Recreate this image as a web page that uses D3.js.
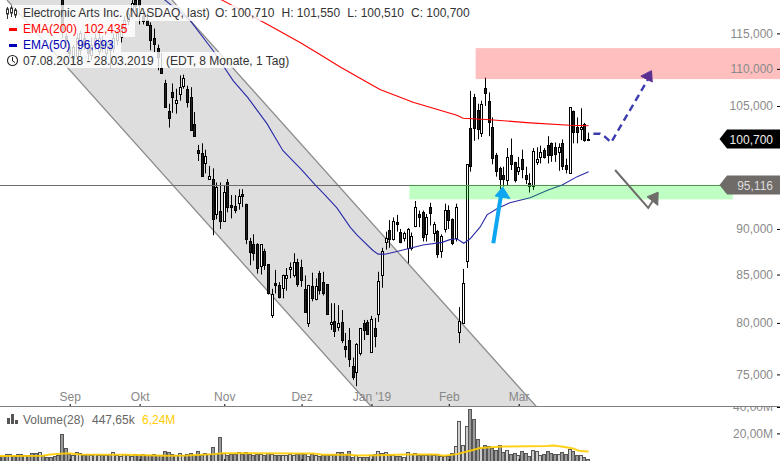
<!DOCTYPE html>
<html>
<head>
<meta charset="utf-8">
<script src="https://cdn.jsdelivr.net/npm/d3@7"></script>
<style>
html,body{margin:0;padding:0;background:#fff;overflow:hidden}
svg{display:block}
text{font-family:"Liberation Sans",Arial,sans-serif;font-size:12px}
</style>
</head>
<body>
<svg id="c" width="780" height="461"></svg>
<script>
// ---- Price data (one value per trading day, 07.08.2018 - 28.03.2019) ----
const opens=[128.0,127.2,126.5,125.9,126.4,125.0,124.4,123.6,124.2,123.5,123.0,122.6,122.9,122.3,122.0,121.8,121.5,
121.0,114.6,113.1,111.5,111.9,112.6,114.4,113.0,111.9,113.3,112.6,113.7,112.2,113.7,112.9,114.0,114.6,115.7,116.9,118.4,119.9,119.9,117.6,116.9,116.2,114.4,112.9,110.1,108.1,104.4,106.8,105.4,106.5,107.6,107.3,106.2,102.7,99.4,99.0,97.7,95.8,
95.8,91.7,92.0,90.9,95.4,92.7,92.6,93.0,94.0,92.9,88.7,88.3,88.3,85.9,87.5,86.1,80.8,84.1,83.9,83.5,84.7,85.6,85.0,86.3,85.8,83.5,80.0,83.8,82.4,85.2,84.2,84.0,79.9,80.2,79.6,80.1,77.7,78.3,75.8,75.2,77.0,80.0,80.1,77.1,79.5,80.9,84.9,88.5,
89.9,88.9,90.8,89.7,89.0,87.9,87.9,90.3,91.7,91.9,89.5,92.5,89.6,89.8,87.5,90.0,92.2,91.1,89.0,79.1,80.0,86.4,102.1,106.2,104.5,101.4,107.4,105.7,102.3,98.7,97.1,96.3,95.7,98.8,97.9,96.8,98.3,96.3,95.3,95.0,97.9,98.5,99.4,100.0,100.2,99.7,99.1,100.3,97.5,96.5,104.3,102.3,102.1,102.7,100.71];
const highs=[130.0,128.6,127.9,127.5,127.0,126.2,125.2,124.8,125.0,124.6,123.8,123.9,123.8,123.2,122.8,122.5,122.3,
122.0,115.0,113.6,113.3,115.0,115.4,115.0,114.0,114.4,115.0,115.4,114.6,114.0,114.0,115.0,115.4,116.0,117.5,118.4,119.9,120.4,120.0,118.7,118.1,116.6,115.7,113.4,112.2,108.5,105.3,108.0,107.3,109.1,109.2,107.7,107.5,104.2,100.0,100.2,99.4,97.4,
97.1,95.4,95.4,95.1,95.8,93.9,93.9,94.6,94.6,92.9,89.0,89.4,88.4,88.3,87.8,86.1,83.5,85.5,84.2,85.0,85.7,86.3,87.3,86.7,86.6,84.9,83.9,85.2,84.6,85.4,85.3,84.0,82.0,82.0,81.8,81.3,79.0,79.5,76.6,78.0,79.5,80.3,80.3,80.7,80.5,85.3,87.9,89.7,
91.0,91.3,91.6,90.0,89.7,90.1,89.6,93.2,92.1,92.1,91.7,93.0,90.8,89.9,89.4,92.9,92.7,91.2,92.9,81.6,85.6,97.6,107.0,106.6,105.3,105.7,108.8,106.8,103.5,99.0,97.3,97.3,99.6,100.8,97.9,98.5,99.4,97.3,96.5,99.6,99.7,99.9,99.6,101.1,100.3,100.3,100.2,100.7,98.3,104.8,104.4,103.5,104.7,102.8,101.55];
const lows=[126.8,126.4,125.8,125.4,124.8,124.0,123.2,123.2,123.4,122.8,122.4,122.2,122.0,121.6,121.2,121.0,120.8,
114.3,113.0,111.6,110.5,111.2,111.9,112.6,111.2,111.2,112.6,111.9,112.3,111.6,110.1,112.3,113.3,113.7,115.1,116.2,117.3,118.1,116.3,116.3,116.2,112.6,112.3,109.8,109.4,104.9,102.2,104.1,104.0,105.7,107.3,104.8,101.9,101.2,98.0,96.1,96.5,95.7,
89.3,91.1,90.0,90.9,91.9,91.2,91.8,92.2,92.5,88.3,86.0,86.5,85.1,85.0,85.5,82.9,80.5,83.0,82.5,82.5,83.3,84.6,84.7,83.7,83.7,81.0,79.6,82.2,82.3,82.9,82.8,80.9,79.3,78.6,79.2,78.0,76.6,75.7,74.5,73.9,76.8,78.3,78.8,77.1,77.6,80.1,83.6,87.7,
87.9,88.7,89.7,88.4,88.6,86.2,87.6,90.2,90.2,88.6,88.6,90.4,88.6,86.8,86.8,89.6,90.0,88.2,88.6,78.0,79.9,85.7,96.7,100.5,100.7,101.0,105.0,101.1,97.6,96.1,94.6,94.9,95.0,96.9,95.4,96.3,95.9,95.2,94.2,94.5,97.5,97.7,98.3,97.7,97.9,97.9,96.8,96.9,96.5,96.5,100.2,100.2,100.6,100.4,100.51];
const closes=[127.2,126.7,126.0,126.8,125.2,124.6,123.6,124.4,123.6,123.1,122.7,122.9,122.3,121.9,121.7,121.4,121.1,
115.4,113.7,112.3,113.0,114.4,115.0,113.3,112.2,113.3,114.3,114.4,112.9,113.6,112.6,114.3,115.0,115.7,116.9,117.9,119.5,119.0,119.2,116.9,116.2,114.0,113.6,111.6,109.4,104.9,103.5,106.1,105.8,107.5,108.7,105.6,101.9,101.2,99.0,96.2,98.6,96.2,
91.1,94.9,90.9,94.3,92.5,92.5,92.1,93.8,93.8,88.9,87.5,87.3,85.7,88.3,86.0,83.0,83.0,83.9,82.6,84.9,85.0,85.8,86.4,84.0,84.4,81.1,83.9,82.5,83.8,83.4,83.0,80.9,80.1,79.2,80.0,78.3,77.4,76.5,74.8,77.9,79.5,79.3,78.9,80.4,78.7,84.3,87.5,89.0,
88.9,90.9,90.6,88.6,89.6,90.0,89.2,92.5,91.3,89.1,91.4,91.8,90.6,87.3,89.2,92.2,91.1,88.4,92.5,80.2,84.1,97.6,97.3,102.2,102.1,105.2,106.7,102.9,98.4,96.8,95.8,95.8,98.5,97.7,95.7,97.3,97.1,95.8,94.9,99.3,98.3,99.1,98.5,98.7,98.7,98.8,99.7,97.4,97.0,104.8,101.6,101.6,102.3,100.7,100.70];
const volumes=[2.8,3.1,4.1,4.1,3.1,4.7,4.4,3.9,3.9,4.9,5.4,5.6,3.9,2.3,2.1,3.1,3.6,19.2,8.6,4.3,3.6,5.6,4.9,
3.8,4.1,3.6,4.1,3.6,3.6,3.9,4.1,6.0,3.6,3.1,4.1,3.8,3.1,4.4,3.8,4.1,3.8,3.8,4.1,3.6,3.3,6.3,5.6,4.1,3.6,4.9,3.6,4.6,4.9,3.8,6.3,3.8,4.9,4.6,9.5,5.0,16.9,4.9,3.6,4.4,4.6,6.0,4.4,6.0,4.2,3.9,4.6,4.6,3.8,4.8,4.2,3.3,4.0,3.5,3.4,4.2,3.8,4.5,
4.9,4.3,3.1,4.4,3.8,3.1,3.4,4.0,3.6,4.1,5.6,5.6,4.6,7.0,2.3,3.6,2.3,2.1,2.3,3.8,4.1,6.4,5.3,5.6,4.1,3.6,2.8,2.6,2.1,5.6,4.1,5.1,3.6,3.3,3.8,4.3,3.8,4.3,3.1,2.6,2.6,4.8,10.6,29.6,11.1,25.8,38.2,30.8,15.4,8.6,10.9,10.4,9.1,7.3,10.9,5.6,7.6,4.3,4.8,3.6,6.3,5.1,2.6,7.6,6.6,3.6,4.3,6.6,5.1,4.1,4.1,5.6,4.1,8.1,6.6,3.6,3.6,1.8,0.45];

// ---- Moving averages, read at the bends of each line ----
const ema200Days=[57,60.4,68,73.4,81.6,87,92.4,97.9,103.3,112.3,124.2,125.9,133.2,144.1,154.9,160];
const ema200Vals=[120.7,119.9,117.7,116.1,113.7,112,110.3,108.7,107.2,105.5,103.8,103.4,103.2,102.8,102.5,102.435];
const ema50Days=[41,44.9,51.7,57.9,63.4,67.4,72.6,76.9,82.1,85.7,88.4,91.6,95.2,97.1,101.4,102.8,104.7,107.9,115,120.2,122.3,124.2,126.1,127.8,130.5,132.4,135.1,138.6,144.1,149,152.8,156.9,160];
const ema50Vals=[121,119.9,116.9,112.6,108.4,106.1,102.7,99.3,96.9,95.1,93.9,92.4,90.2,89.3,87.6,87.2,87.2,87.5,88.2,88.5,88.8,88.9,88.4,88.9,90.2,91.6,92.3,93,93.6,94.5,95.1,96.1,96.693];
const volEmaDays=[0,11.8,13.6,18.6,21.8,34.5,45.3,50.8,58,60.7,81.6,85.2,87.9,95.1,97,102.4,110.6,118.7,120.6,124.2,127.8,130.5,136.8,148.6,150.4,153.1,155.8,157.6,160];
const volEmaVals=[2.8,3.0,4.0,5.0,4.0,3.8,3.0,3.3,4.3,5.0,4.8,4.8,3.8,3.8,3.3,3.5,4,4,3,4.3,6.8,8.9,10.1,10.4,10.9,9.8,8.6,6.6,6.24];

// ---- Drawn annotations, in [trading day, price] ----
const channelLower=[[1.96,119.9],[101.05,72]];
const channelUpper=[[46.8,119.9],[145.9,72]];
const resistanceZone={from:129.3,to:215,high:112.9,low:108.6};
const supportZone={from:111.3,to:199.2,high:95.116,low:93.4};
const blueArrowLine=[[134.1,88.4],[136.2,93.9]];
const blueArrowHead=[[136.7,94.85],[134.6,93.8],[138.6,93.5]];
const dashCurve=[[161.3,101.4],[163.1,101.4],[164.5,101.0],[166.1,100.3],[177.0,109.3]];
const dashHead=[[177.1,109.75],[174.2,109.0],[177.3,108.2]];
const greyArrowLine=[[167.2,96.9],[176.2,92.4],[177.4,93.2]];
const greyArrowHead=[[178.9,94.25],[175.9,93.7],[178.8,92.7]];

// ---- Ticks ----
const monthDays=[19,38,61,82,101,122,141];
const monthLabels=["Sep","Okt","Nov","Dez","Jan '19","Feb","Mar"];
const priceTicks=[75,80,85,90,105,110,115];
const volumeTicks=[20,40];
const lastPrice=100.7, levelPrice=95.116;

const svg=d3.select("#c");
const x=d3.scaleLinear().domain([0,160]).range([-0.2,588.6]);
const y=d3.scaleLog().domain([115,75]).range([33.4,374.4]);
const yV=d3.scaleLinear().domain([0,40]).range([459.8,407]);
const defs=svg.append("defs");
defs.append("clipPath").attr("id","pp").append("rect").attr("width",780).attr("height",406);
defs.append("clipPath").attr("id","vp").append("rect").attr("y",407).attr("width",780).attr("height",54);
const P=p=>[x(p[0]),y(p[1])];
const price=svg.append("g").attr("clip-path","url(#pp)");

// channel
price.append("path").attr("fill","#dedede")
  .attr("d",d3.line()([...channelLower,channelUpper[1],channelUpper[0]].map(P))+"Z");
[channelLower,channelUpper].forEach(l=>price.append("path").attr("fill","none").attr("stroke","#8c8c8c").attr("stroke-width",1.3)
  .attr("d",d3.line()(l.map(P))));

// candles
const idx=d3.range(closes.length);
const cx=i=>Math.floor(x(i));
const candles=price.append("g").selectAll("g").data(idx).join("g");
candles.append("line").attr("x1",i=>cx(i)+.5).attr("x2",i=>cx(i)+.5)
  .attr("y1",i=>y(highs[i])).attr("y2",i=>y(lows[i])).attr("stroke","#000");
candles.append("rect").attr("x",i=>cx(i)-.5).attr("width",2)
  .attr("y",i=>Math.round(y(Math.max(opens[i],closes[i])))+.5)
  .attr("height",i=>Math.max(1,Math.round(Math.abs(y(opens[i])-y(closes[i])))))
  .attr("fill",i=>closes[i]>=opens[i]?"#fff":"#222").attr("stroke","#000");

// level line
price.append("line").attr("x1",0).attr("x2",722).attr("y1",Math.round(y(levelPrice))+.5).attr("y2",Math.round(y(levelPrice))+.5).attr("stroke","#6f6b68");

// EMAs
const ln=(xs,ys,sc)=>d3.line()(xs.map((d,i)=>[x(d),sc(ys[i])]));
price.append("path").attr("fill","none").attr("stroke","#f00").attr("stroke-width",1.1).attr("d",ln(ema200Days,ema200Vals,y));
price.append("path").attr("fill","none").attr("stroke","#2a2aa8").attr("stroke-width",1.1).attr("d",ln(ema50Days,ema50Vals,y));

// zones
function zone(z,col){price.append("rect").attr("x",x(z.from)).attr("width",x(z.to)-x(z.from))
  .attr("y",y(z.high)).attr("height",y(z.low)-y(z.high)).attr("fill",col);}
zone(resistanceZone,"rgba(255,0,0,.25)");
zone(supportZone,"rgba(0,255,20,.25)");

// arrows
const path=pts=>d3.line()(pts.map(P));
price.append("path").attr("fill","none").attr("stroke","#0ca6f2").attr("stroke-width",4).attr("d",path(blueArrowLine));
price.append("path").attr("fill","#0ca6f2").attr("stroke","#0ca6f2").attr("d",path(blueArrowHead)+"Z");
price.append("path").attr("fill","none").attr("stroke","#3c3cb0").attr("stroke-width",2.4).attr("stroke-dasharray","7,4.5").attr("d",path(dashCurve));
price.append("path").attr("fill","#5c2f93").attr("stroke","#5c2f93").attr("d",path(dashHead)+"Z");
price.append("path").attr("fill","none").attr("stroke","#6f6b68").attr("stroke-width",2).attr("d",path(greyArrowLine));
price.append("path").attr("fill","#6f6b68").attr("stroke","#6f6b68").attr("d",path(greyArrowHead)+"Z");

// price axis
const yAxis=d3.axisRight(y).tickValues(priceTicks).tickSize(-3).tickPadding(-1)
  .tickFormat(d=>d3.format(".3f")(d).replace(".",","));
const ya=svg.append("g").attr("transform","translate(780,0)").call(yAxis);
ya.select(".domain").remove();
ya.selectAll("text").attr("x",-7).attr("text-anchor","end").attr("fill","#8a8a8a").style("font-size","12px");
ya.selectAll("line").attr("stroke","#000");

// time axis
const xAxis=d3.axisBottom(x).tickValues(monthDays).tickSize(-2).tickFormat((d,i)=>monthLabels[i]);
const xa=svg.append("g").attr("transform","translate(0,406)").call(xAxis);
xa.select(".domain").remove();
xa.selectAll("text").attr("y",-5).attr("dy",0).attr("fill","#888").style("font-size","12px");
xa.selectAll("line").attr("stroke","#000");
svg.append("line").attr("x1",0).attr("x2",780).attr("y1",406.5).attr("y2",406.5).attr("stroke","#808080");

// price flags
function flag(v,col,txtCol,label){
  const yy=Math.round(y(v));
  svg.append("path").attr("fill",col).attr("d",d3.line()([[719.5,yy],[727,yy-9.5],[780,yy-9.5],[780,yy+9.5],[727,yy+9.5]])+"Z");
  svg.append("text").attr("x",773).attr("y",yy+4.5).attr("text-anchor","end").attr("fill",txtCol).text(label);
}
flag(lastPrice,"#000","#eee","100,700");
flag(levelPrice,"#6f6b68","#ddd","95,116");

// volume
const vol=svg.append("g").attr("clip-path","url(#vp)");
vol.append("g").selectAll("rect").data(idx).join("rect")
  .attr("x",i=>cx(i)-1.5).attr("width",3)
  .attr("y",i=>Math.round(yV(volumes[i]))+.5).attr("height",i=>Math.max(0,465-yV(volumes[i])))
  .attr("fill",i=>closes[i]>=opens[i]?"#cfcfcf":"#9a9a9a").attr("stroke","#555");
vol.append("path").attr("fill","none").attr("stroke","#ffcc00").attr("stroke-width",2).attr("stroke-opacity",.9)
  .attr("d",ln(volEmaDays,volEmaVals,yV));
const yvAxis=d3.axisRight(yV).tickValues(volumeTicks).tickSize(-3).tickFormat(d=>d3.format(".2f")(d).replace(".",",")+"M");
const yva=vol.append("g").attr("transform","translate(780,0)").call(yvAxis);
yva.select(".domain").remove();
yva.selectAll("text").attr("x",-7).attr("text-anchor","end").attr("fill","#8a8a8a").style("font-size","12px");
yva.selectAll("line").attr("stroke","#000");
const xvAxis=d3.axisBottom(x).tickValues(monthDays).tickSize(-2).tickFormat("");
const xva=svg.append("g").attr("transform","translate(0,461)").call(xvAxis);
xva.select(".domain").remove();
xva.selectAll("line").attr("stroke","#000");

// legend
const L=svg.append("g");
[[5,16,480],[21,16,135],[37,15,121],[52,16,295]].forEach(r=>L.append("rect").attr("x",0).attr("y",r[0]).attr("width",r[2]).attr("height",r[1]).attr("fill","rgba(255,255,255,.8)"));
const T=(tx,ty,s,col)=>L.append("text").attr("x",tx).attr("y",ty).attr("fill",col).text(s);
T(23,17,"Electronic Arts Inc. (NASDAQ, last)","#333");
T(215,17,"O: 100,710","#333");
T(281.5,17,"H: 101,550","#333");
T(347.3,17,"L: 100,510","#333");
T(411,17,"C: 100,700","#333");
T(23,33,"EMA(200)","#f00"); T(84,33,"102,435","#f00");
T(23,49,"EMA(50)","#0000b4"); T(77,49,"96,693","#0000b4");
T(23,65,"07.08.2018 - 28.03.2019","#333"); T(166,65,"(EDT, 8 Monate, 1 Tag)","#333");
// icons
[[7.5,9,14,7,19],[11.5,8,13,5.5,17],[15.5,10,15,8,18]].forEach(c=>{
  L.append("line").attr("x1",c[0]).attr("x2",c[0]).attr("y1",c[3]).attr("y2",c[4]).attr("stroke","#333");
  L.append("rect").attr("x",c[0]-1).attr("y",c[1]).attr("width",2).attr("height",c[2]-c[1]).attr("fill","#fff").attr("stroke","#333");
});
L.append("rect").attr("x",9).attr("y",28).attr("width",8).attr("height",3).attr("fill","#f00");
L.append("rect").attr("x",9).attr("y",44).attr("width",8).attr("height",3).attr("fill","#0000b4");
L.append("circle").attr("cx",12.5).attr("cy",60.5).attr("r",5).attr("fill","none").attr("stroke","#222").attr("stroke-width",1.1);
L.append("path").attr("fill","none").attr("stroke","#222").attr("d","M12.5 57V61L15 62.5");
// volume legend
[[7,418,3,6],[11,414,3,10],[15,420,3,4]].forEach(b=>L.append("rect").attr("x",b[0]).attr("y",b[1]).attr("width",b[2]).attr("height",b[3]).attr("fill","#555"));
T(23,424,"Volume(28)","#666"); T(92,424,"447,65k","#666"); T(142,424,"6,24M","#ffcc00");
</script>
</body>
</html>
